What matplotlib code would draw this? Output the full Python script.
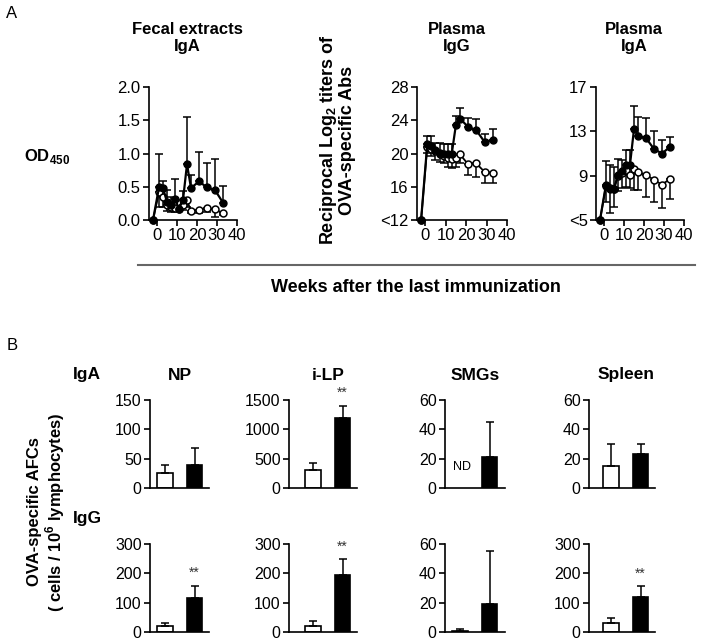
import matplotlib
matplotlib.use("Agg")
import matplotlib.pyplot as plt

plt.rcParams["font.family"] = ["Liberation Sans", "DejaVu Sans"]
plt.rcParams["mathtext.fontset"] = "custom"
plt.rcParams["mathtext.rm"] = "Liberation Sans"
plt.rcParams["mathtext.bf"] = "Liberation Sans:bold"

# ---- Panel A: time courses (weeks after the last immunization) ----
weeks = [-2, 1, 3, 5, 7, 9, 11, 13, 15, 17, 21, 25, 29, 33]

fecal_filled = [0, 0.49, 0.48, 0.27, 0.23, 0.32, 0.17, 0.30, 0.84, 0.48, 0.58, 0.49, 0.45, 0.26]
fecal_filled_hi = [0, 1.00, 0.58, 0.45, 0.35, 0.61, 0.20, 0.43, 1.55, 0.67, 1.03, 0.86, 0.91, 0.51]
fecal_open = [0, 0.42, 0.35, 0.22, 0.20, 0.18, 0.17, 0.22, 0.30, 0.13, 0.15, 0.18, 0.16, 0.10]
fecal_open_lo = [0, 0.20, 0.20, 0.13, 0.12, 0.12, 0.13, 0.15, 0.20, 0.10, 0.10, 0.12, 0.05, 0.08]

igg_filled = [12, 21.1, 20.9, 20.4, 20.1, 20.0, 20.0, 20.0, 23.4, 24.2, 23.2, 22.8, 21.4, 21.6]
igg_filled_hi = [12, 22.1, 22.1, 21.3, 21.3, 21.2, 21.2, 21.2, 24.5, 25.5, 24.3, 24.1, 22.3, 22.9]
igg_open = [12, 20.8, 20.6, 20.3, 20.0, 19.7, 19.4, 19.3, 19.4, 19.9, 18.7, 18.8, 17.8, 17.7]
igg_open_lo = [12, 20.1, 19.7, 19.2, 19.0, 18.8, 18.4, 18.3, 18.4, 18.8, 17.4, 17.2, 16.4, 16.4]

iga_filled = [5, 8.2, 7.8, 7.8, 9.1, 9.4, 10.0, 10.0, 13.2, 12.6, 12.4, 11.4, 11.0, 11.6]
iga_filled_hi = [5, 10.3, 10.0, 9.8, 10.5, 10.4, 11.3, 11.3, 15.3, 14.3, 14.2, 13.0, 12.2, 12.5]
iga_open = [5, 8.1, 7.9, 7.8, 9.0, 9.2, 9.5, 9.1, 9.6, 9.3, 9.1, 8.6, 8.2, 8.7]
iga_open_lo = [5, 6.6, 5.6, 6.2, 7.6, 7.9, 8.0, 7.9, 7.7, 7.7, 7.1, 6.6, 6.1, 6.9]

# ---- Panel B: OVA-specific AFCs (white = control, black = immunized) ----
tissues = ["NP", "i-LP", "SMGs", "Spleen"]
iga_white = [26, 305, None, 15]
iga_white_err = [39, 428, None, 30]
iga_black = [39, 1200, 21, 23]
iga_black_err = [69, 1405, 45, 30]
iga_sig = [False, True, False, False]
iga_yticks = [[0, 50, 100, 150], [0, 500, 1000, 1500], [0, 20, 40, 60], [0, 20, 40, 60]]

igg_white = [21, 22, 1, 30]
igg_white_err = [33, 38, 2.5, 47]
igg_black = [115, 193, 19, 119]
igg_black_err = [158, 247, 55, 157]
igg_sig = [True, True, False, True]
igg_yticks = [[0, 100, 200, 300], [0, 100, 200, 300], [0, 20, 40, 60], [0, 100, 200, 300]]

W, H = 701, 644
fig = plt.figure(figsize=(W / 100, H / 100), dpi=100)


def px_axes(left, top, right, bottom):
    return fig.add_axes([left / W, 1 - bottom / H, (right - left) / W, (bottom - top) / H])


def ftext(x, y, s, **kw):
    fig.text(x / W, 1 - y / H, s, **kw)


def style(ax, size):
    for side in ["top", "right"]:
        ax.spines[side].set_visible(False)
    for side in ["left", "bottom"]:
        ax.spines[side].set_linewidth(1.2)
    ax.tick_params(width=1.2, length=4, labelsize=size, pad=2)


def time_panel(ax, filled, filled_hi, opn, opn_lo, ylim, yticks, yticklabels):
    style(ax, 12)
    lo = [o - l for o, l in zip(opn, opn_lo)]
    ax.errorbar(weeks, opn, yerr=[lo, [0] * len(opn)], fmt="none", ecolor="black",
                elinewidth=1.1, capsize=3, capthick=1.1, clip_on=False)
    hi = [h - f for f, h in zip(filled, filled_hi)]
    ax.errorbar(weeks, filled, yerr=[[0] * len(filled), hi], fmt="none", ecolor="black",
                elinewidth=1.1, capsize=3, capthick=1.1, clip_on=False)
    ax.plot(weeks, opn, "-o", color="black", mfc="white", mec="black", ms=5, mew=1.1,
            lw=1.3, clip_on=False, zorder=3)
    ax.plot(weeks, filled, "-o", color="black", mfc="black", ms=5, lw=1.6,
            clip_on=False, zorder=4)
    ax.set_xlim(-4, 40)
    ax.set_xticks([0, 10, 20, 30, 40])
    ax.set_ylim(*ylim)
    ax.set_yticks(yticks)
    ax.set_yticklabels(yticklabels)


ax1 = px_axes(149, 87, 237, 220)
time_panel(ax1, fecal_filled, fecal_filled_hi, fecal_open, fecal_open_lo,
           (0, 2), [0, 0.5, 1.0, 1.5, 2.0], ["0.0", "0.5", "1.0", "1.5", "2.0"])
ax2 = px_axes(417, 87, 507, 220)
time_panel(ax2, igg_filled, igg_filled_hi, igg_open, igg_open_lo,
           (12, 28), [12, 16, 20, 24, 28], ["<12", "16", "20", "24", "28"])
ax3 = px_axes(596, 87, 684, 220)
time_panel(ax3, iga_filled, iga_filled_hi, iga_open, iga_open_lo,
           (5, 17), [5, 9, 13, 17], ["<5", "9", "13", "17"])

bold = dict(fontweight="bold", ha="center", va="center")
ftext(187, 38, "Fecal extracts\nIgA", fontsize=12, linespacing=1.2, **bold)
ftext(457, 38, "Plasma\nIgG", fontsize=12, linespacing=1.2, **bold)
ftext(634, 38, "Plasma\nIgA", fontsize=12, linespacing=1.2, **bold)
ftext(47, 157, r"OD$_\mathbf{450}$", fontsize=12, **bold)
ftext(337, 140, "Reciprocal Log$_\\mathbf{2}$ titers of\nOVA-specific Abs", fontsize=13,
      rotation=90, linespacing=1.05, **bold)
ftext(12, 14, "A", fontsize=12, ha="center", va="center")
fig.add_artist(plt.Line2D([138 / W, 695 / W], [1 - 265 / H, 1 - 265 / H],
                          color="#666666", lw=1.5))
ftext(416, 287, "Weeks after the last immunization", fontsize=13, **bold)

# ---- Panel B layout: (y-axis px, right end px, white bar centre px) ----
cols = [(150, 209, 165), (289, 357, 313), (445, 505, 460), (589, 655, 611)]
unit = 29.5


def bar_panel(ax, col, white, white_err, black, black_err, sig, yticks):
    style(ax, 11.5)
    left, right, c0 = col
    ax.set_xlim((left - c0) / unit, (right - c0) / unit)
    ax.set_ylim(0, yticks[-1])
    ax.set_yticks(yticks)
    ax.set_xticks([])
    if white is not None:
        ax.bar(0, white, width=0.51, color="white", edgecolor="black", linewidth=1.2)
        ax.errorbar(0, white, yerr=[[0], [white_err - white]], fmt="none", ecolor="black",
                    elinewidth=1.1, capsize=3, capthick=1.1)
    else:
        ax.text(0.08, yticks[-1] * 0.24, "ND", fontsize=9, ha="center", va="center")
    ax.bar(1, black, width=0.51, color="black", edgecolor="black", linewidth=1.2)
    ax.errorbar(1, black, yerr=[[0], [black_err - black]], fmt="none", ecolor="black",
                elinewidth=1.1, capsize=3, capthick=1.1, clip_on=False)
    if sig:
        ax.annotate("**", (1, black_err), xytext=(0, 9), textcoords="offset points",
                    ha="center", va="center", fontsize=10, color="#333333",
                    annotation_clip=False)


for i, col in enumerate(cols):
    axa = px_axes(col[0], 400, col[1], 488)
    bar_panel(axa, col, iga_white[i], iga_white_err[i], iga_black[i], iga_black_err[i],
              iga_sig[i], iga_yticks[i])
    axg = px_axes(col[0], 543.5, col[1], 632.3)
    bar_panel(axg, col, igg_white[i], igg_white_err[i], igg_black[i], igg_black_err[i],
              igg_sig[i], igg_yticks[i])
    ftext(col[2] + unit / 2, 375, tissues[i], fontsize=12.5, **bold)

ftext(12, 346, "B", fontsize=12, ha="center", va="center")
ftext(87, 375, "IgA", fontsize=12.5, **bold)
ftext(87, 519, "IgG", fontsize=12.5, **bold)
ftext(47, 512, "OVA-specific AFCs\n( cells / 10$^\\mathbf{6}$ lymphocytes)", fontsize=12,
      rotation=90, linespacing=1.1, **bold)

fig.savefig("out.png", dpi=100)
